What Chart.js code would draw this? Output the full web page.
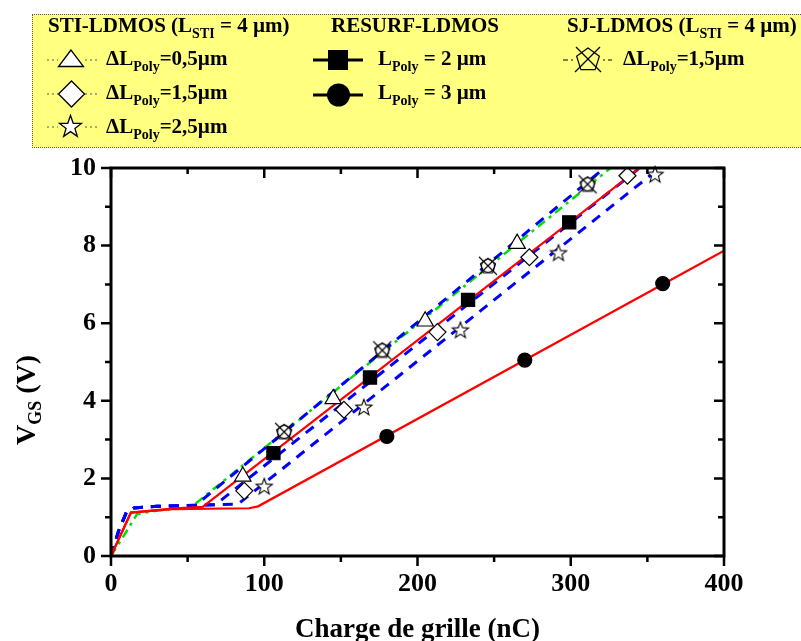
<!DOCTYPE html>
<html>
<head>
<meta charset="utf-8">
<script src="https://cdn.jsdelivr.net/npm/chart.js@4.4.1/dist/chart.umd.min.js"></script>
<style>
  html, body { margin: 0; padding: 0; background: #fff; }
  #wrap { position: relative; width: 801px; height: 641px; overflow: hidden;
          font-family: 'Liberation Serif', 'Times New Roman', serif; font-weight: bold; }
  #c { position: absolute; left: 0; top: 0; }
  #leg { position: absolute; left: 32px; top: 14px; width: 769px; height: 134px; box-sizing: border-box;
         background: #ffff80; border: 1px dotted #555; border-right: none; }
  .t { position: absolute; font-size: 21px; line-height: 21px; white-space: nowrap; color: #000; }
  .t sub { font-size: 14px; vertical-align: -6px; line-height: 0; }
  #sym { position: absolute; left: 0; top: 0; }
</style>
</head>
<body>
<div id="wrap">
  <canvas id="c" width="801" height="641"></canvas>
  <div id="leg"></div>
  <svg id="sym" width="801" height="150">
    <!-- STI-LDMOS -->
    <g stroke="#555" stroke-width="1" stroke-dasharray="2,3">
      <line x1="47" y1="60" x2="58" y2="60"/><line x1="85" y1="60" x2="97" y2="60"/>
      <line x1="47" y1="94" x2="58" y2="94"/><line x1="85" y1="94" x2="97" y2="94"/>
      <line x1="47" y1="127" x2="58" y2="127"/><line x1="85" y1="127" x2="97" y2="127"/>
    </g>
    <polygon points="71,50 58.5,66.5 83.5,66.5" fill="#fff" stroke="#000" stroke-width="1.3"/>
    <polygon points="71.5,81 84.5,94 71.5,107 58.5,94" fill="#fff" stroke="#000" stroke-width="1.3"/>
    <polygon id="legStar" fill="#fff" stroke="#000" stroke-width="1.3"/>
    <!-- RESURF -->
    <line x1="313" y1="60" x2="363" y2="60" stroke="#000" stroke-width="3"/>
    <rect x="328" y="50" width="20" height="20" fill="#000"/>
    <line x1="313" y1="95" x2="363" y2="95" stroke="#000" stroke-width="3"/>
    <circle cx="338.5" cy="95" r="11.5" fill="#000"/>
    <!-- SJ -->
    <g stroke="#000" stroke-width="1">
      <line x1="563" y1="60" x2="568" y2="60"/><line x1="571" y1="60" x2="573" y2="60"/>
      <line x1="603" y1="60" x2="605" y2="60"/><line x1="608" y1="60" x2="612" y2="60"/>
    </g>
    <polygon id="legPent" fill="none" stroke="#000" stroke-width="1.2"/>
    <line x1="576" y1="47" x2="601" y2="72" stroke="#000" stroke-width="1.2"/>
    <line x1="600" y1="47" x2="575" y2="72" stroke="#000" stroke-width="1.2"/>
  </svg>
  <div class="t" style="left:48px;top:15px">STI-LDMOS (L<sub>STI</sub> = 4 µm)</div>
  <div class="t" style="left:331px;top:15px">RESURF-LDMOS</div>
  <div class="t" style="left:567px;top:15px">SJ-LDMOS (L<sub>STI</sub> = 4 µm)</div>
  <div class="t" style="left:106px;top:48px">ΔL<sub>Poly</sub>=0,5µm</div>
  <div class="t" style="left:106px;top:82px">ΔL<sub>Poly</sub>=1,5µm</div>
  <div class="t" style="left:106px;top:116px">ΔL<sub>Poly</sub>=2,5µm</div>
  <div class="t" style="left:378px;top:48px">L<sub>Poly</sub> = 2 µm</div>
  <div class="t" style="left:378px;top:82px">L<sub>Poly</sub> = 3 µm</div>
  <div class="t" style="left:623px;top:48px">ΔL<sub>Poly</sub>=1,5µm</div>
</div>
<script>
// ---- courbes (charge de grille en nC, VGS en V) ----
const qResurf2 = [0, 13, 40, 60, 345];
const vResurf2 = [0, 1.12, 1.22, 1.27, 10];
const qResurf3 = [0, 13, 40, 90, 96, 400];
const vResurf3 = [0, 1.12, 1.21, 1.23, 1.28, 7.87];
const qSjLine = [0, 8, 17, 30, 52, 326];
const vSjLine = [0, 0.5, 1.08, 1.17, 1.25, 10];
const qSti05 = [0, 5, 10, 15, 30, 55, 322];
const vSti05 = [0, 0.65, 1.12, 1.24, 1.28, 1.3, 10];
const qSti15 = [0, 5, 10, 15, 30, 68, 345];
const vSti15 = [0, 0.65, 1.12, 1.24, 1.28, 1.32, 10];
const qSti25 = [0, 5, 10, 15, 30, 83, 358];
const vSti25 = [0, 0.65, 1.12, 1.24, 1.28, 1.34, 10];

// ---- symboles ----
const qTri = [86, 145, 205, 265];
const vTri = [2.05, 4.05, 6.05, 8.05];
const qDiam = [87, 152, 213, 273, 337];
const vDiam = [1.68, 3.77, 5.77, 7.7, 9.8];
const qStar = [100, 165, 228, 292, 355];
const vStar = [1.8, 3.84, 5.83, 7.82, 9.84];
const qSj = [113, 177, 246, 311];
const vSj = [3.2, 5.3, 7.48, 9.58];
const qSq = [106, 169, 233, 299];
const vSq = [2.65, 4.6, 6.6, 8.6];
const qCirc = [180, 270, 360];
const vCirc = [3.08, 5.05, 7.02];

const FONT = "'Liberation Serif', 'Times New Roman', serif";

function pts(xs, ys) { return xs.map((x, i) => ({ x: x, y: ys[i] })); }

// legend star / pentagon
function starPts(cx, cy, ro, ri) {
  const p = [];
  for (let i = 0; i < 10; i++) {
    const r = i % 2 ? ri : ro, a = -Math.PI / 2 + i * Math.PI / 5;
    p.push((cx + r * Math.cos(a)).toFixed(1) + ',' + (cy + r * Math.sin(a)).toFixed(1));
  }
  return p.join(' ');
}
function pentPts(cx, cy, r) {
  const p = [];
  for (let i = 0; i < 5; i++) {
    const a = -Math.PI / 2 + i * 2 * Math.PI / 5;
    p.push((cx + r * Math.cos(a)).toFixed(1) + ',' + (cy + r * Math.sin(a)).toFixed(1));
  }
  return p.join(' ');
}
document.getElementById('legStar').setAttribute('points', starPts(70.5, 127, 11.5, 4.6));
document.getElementById('legPent').setAttribute('points', pentPts(588, 60, 12));

// custom point images
function makeStar() {
  const c = document.createElement('canvas'); c.width = c.height = 20;
  const g = c.getContext('2d');
  g.beginPath();
  for (let i = 0; i < 10; i++) {
    const r = i % 2 ? 3.6 : 8.5, a = -Math.PI / 2 + i * Math.PI / 5;
    const x = 10 + r * Math.cos(a), y = 10.8 + r * Math.sin(a);
    i ? g.lineTo(x, y) : g.moveTo(x, y);
  }
  g.closePath(); g.fillStyle = '#fff'; g.fill();
  g.lineWidth = 1.1; g.strokeStyle = '#000'; g.stroke();
  return c;
}
function makeSj() {
  const c = document.createElement('canvas'); c.width = c.height = 24;
  const g = c.getContext('2d');
  g.lineWidth = 1.1; g.strokeStyle = '#000';
  g.beginPath();
  for (let i = 0; i < 5; i++) {
    const a = -Math.PI / 2 + i * 2 * Math.PI / 5;
    const x = 12 + 8 * Math.cos(a), y = 12.5 + 8 * Math.sin(a);
    i ? g.lineTo(x, y) : g.moveTo(x, y);
  }
  g.closePath(); g.fillStyle = '#fff'; g.fill(); g.stroke();
  g.beginPath(); g.arc(12, 12, 6.5, 0, Math.PI * 2); g.stroke();
  g.beginPath(); g.moveTo(3, 3); g.lineTo(21, 21); g.moveTo(21, 3); g.lineTo(3, 21); g.stroke();
  return c;
}

function lineDs(xs, ys, color, width, dash) {
  return { type: 'line', data: pts(xs, ys), borderColor: color, borderWidth: width,
           borderDash: dash, pointRadius: 0, fill: false, tension: 0, order: 2 };
}
function markDs(xs, ys, style, r, fillC) {
  return { type: 'line', data: pts(xs, ys), showLine: false, pointStyle: style, pointRadius: r,
           pointBackgroundColor: fillC, pointBorderColor: '#000', pointBorderWidth: 1.2,
           clip: false, order: 0 };
}

// cadre + graduations + titres
const framePlugin = {
  id: 'frame',
  afterDatasetsDraw(chart) {
    const { ctx, chartArea: a, scales } = chart;
    const xs = scales.x, ys = scales.y;
    ctx.save();
    ctx.strokeStyle = '#000'; ctx.lineWidth = 3;
    ctx.strokeRect(a.left, a.top, a.right - a.left, a.bottom - a.top);
    ctx.lineWidth = 2.5;
    ctx.beginPath();
    xs.ticks.forEach(t => {
      const px = xs.getPixelForValue(t.value);
      const len = t.value % 100 === 0 ? 10 : 6;
      ctx.moveTo(px, a.bottom); ctx.lineTo(px, a.bottom + len);
      ctx.moveTo(px, a.top); ctx.lineTo(px, a.top + len);
    });
    ys.ticks.forEach(t => {
      const py = ys.getPixelForValue(t.value);
      const len = t.value % 2 === 0 ? 10 : 6;
      ctx.moveTo(a.left, py); ctx.lineTo(a.left - len, py);
      ctx.moveTo(a.right, py); ctx.lineTo(a.right - len, py);
    });
    ctx.stroke();

    // x title
    ctx.fillStyle = '#000';
    ctx.font = 'bold 27px ' + FONT;
    ctx.textAlign = 'center'; ctx.textBaseline = 'alphabetic';
    ctx.fillText('Charge de grille (nC)', (a.left + a.right) / 2, 637);

    // y title V_GS (V)
    ctx.translate(35, 400);
    ctx.rotate(-Math.PI / 2);
    ctx.textAlign = 'left';
    const big = 'bold 28px ' + FONT, small = 'bold 18px ' + FONT;
    ctx.font = big; const w1 = ctx.measureText('V').width, w3 = ctx.measureText(' (V)').width;
    ctx.font = small; const w2 = ctx.measureText('GS').width;
    let x0 = -(w1 + w2 + w3) / 2;
    ctx.font = big; ctx.fillText('V', x0, 0);
    ctx.font = small; ctx.fillText('GS', x0 + w1, 6);
    ctx.font = big; ctx.fillText(' (V)', x0 + w1 + w2, 0);
    ctx.restore();
  }
};

new Chart(document.getElementById('c'), {
  type: 'line',
  data: {
    datasets: [
      markDs(qTri, vTri, 'triangle', 9.5, '#fff'),
      markDs(qDiam, vDiam, 'rectRot', 8.5, '#fff'),
      markDs(qStar, vStar, makeStar(), 8, '#fff'),
      markDs(qSj, vSj, makeSj(), 9, '#fff'),
      markDs(qSq, vSq, 'rect', 9.3, '#000'),
      markDs(qCirc, vCirc, 'circle', 7, '#000'),
      lineDs(qResurf2, vResurf2, '#ff0000', 2.2, []),
      lineDs(qResurf3, vResurf3, '#ff0000', 2.2, []),
      lineDs(qSti05, vSti05, '#0000ff', 3, [10, 8]),
      lineDs(qSti15, vSti15, '#0000ff', 3, [10, 8]),
      lineDs(qSti25, vSti25, '#0000ff', 3, [10, 8]),
      lineDs(qSjLine, vSjLine, '#00e000', 2.5, [9, 5, 3, 5])
    ]
  },
  options: {
    responsive: false,
    animation: false,
    devicePixelRatio: 1,
    layout: { padding: { top: 168, right: 77, left: 0, bottom: 0 } },
    plugins: { legend: { display: false }, tooltip: { enabled: false } },
    scales: {
      x: {
        type: 'linear', min: 0, max: 400,
        grid: { display: false, drawTicks: false },
        border: { display: false },
        ticks: { stepSize: 50, padding: 13, maxRotation: 0, color: '#000',
                 font: { family: FONT, size: 26, weight: 'bold' },
                 callback: v => (v % 100 === 0 ? v : '') },
        afterFit: s => { s.height = 85; }
      },
      y: {
        type: 'linear', min: 0, max: 10,
        grid: { display: false, drawTicks: false },
        border: { display: false },
        ticks: { stepSize: 1, padding: 15, color: '#000',
                 font: { family: FONT, size: 26, weight: 'bold' },
                 callback: v => (v % 2 === 0 ? v : '') },
        afterFit: s => { s.width = 111; }
      }
    }
  },
  plugins: [framePlugin]
});
</script>
</body>
</html>
